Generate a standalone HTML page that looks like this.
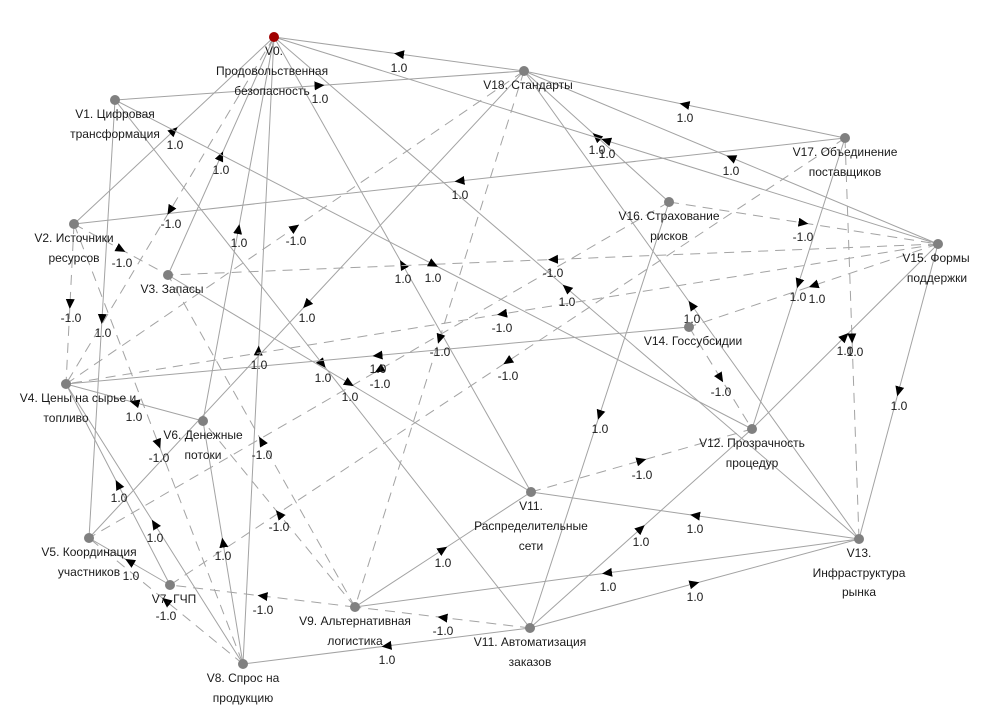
<!DOCTYPE html>
<html><head><meta charset="utf-8"><style>
html,body{margin:0;padding:0;background:#fff;}
svg{display:block;}
text{font-family:"Liberation Sans","Noto Sans CJK SC",sans-serif;font-size:12px;fill:#1a1a1a;text-anchor:middle;dominant-baseline:middle;}
.e{fill:none;stroke:#a3a3a3;stroke-width:1;marker-mid:url(#a);}
.d{stroke-dasharray:10,7;}
</style></head><body>
<svg width="983" height="716" viewBox="0 0 983 716" xmlns="http://www.w3.org/2000/svg">
<defs><marker id="a" viewBox="0 0 10 10" refX="5" refY="5" markerWidth="10" markerHeight="10" markerUnits="userSpaceOnUse" orient="auto"><path d="M0,0.5L10,5L0,9.5z" fill="#000"/></marker></defs>
<g>
<polyline class="e" points="524,71 399,54 274,37"/>
<polyline class="e" points="115,100 319.5,85.5 524,71"/>
<polyline class="e" points="74,224 174,130.5 274,37"/>
<polyline class="e" points="168,275 221,156 274,37"/>
<polyline class="e" points="203,421 238.5,229 274,37"/>
<polyline class="e" points="243,664 258.5,350.5 274,37"/>
<polyline class="e" points="115,100 102,319 89,538"/>
<polyline class="e" points="531,492 402.5,264.5 274,37"/>
<polyline class="e" points="845,138 459.5,181 74,224"/>
<polyline class="e" points="845,138 684.5,104.5 524,71"/>
<polyline class="e" points="669,202 596.5,136.5 524,71"/>
<polyline class="e" points="938,244 606,140.5 274,37"/>
<polyline class="e" points="938,244 731,157.5 524,71"/>
<polyline class="e d" points="669,202 803.5,223 938,244"/>
<polyline class="e d" points="938,244 553,259.5 168,275"/>
<polyline class="e" points="859,539 566.5,288 274,37"/>
<polyline class="e d" points="938,244 502,314 66,384"/>
<polyline class="e d" points="845,138 507.5,361.5 170,585"/>
<polyline class="e" points="859,539 691.5,305 524,71"/>
<polyline class="e" points="845,138 798.5,283.5 752,429"/>
<polyline class="e d" points="938,244 813.5,285.5 689,327"/>
<polyline class="e" points="752,429 845,336.5 938,244"/>
<polyline class="e d" points="845,138 852,338.5 859,539"/>
<polyline class="e" points="938,244 898.5,391.5 859,539"/>
<polyline class="e" points="669,202 599.5,415 530,628"/>
<polyline class="e d" points="689,327 720.5,378 752,429"/>
<polyline class="e d" points="531,492 641.5,460.5 752,429"/>
<polyline class="e" points="859,539 695,515.5 531,492"/>
<polyline class="e" points="530,628 641,528.5 752,429"/>
<polyline class="e" points="859,539 607,573 355,607"/>
<polyline class="e" points="530,628 694.5,583.5 859,539"/>
<polyline class="e" points="115,100 322.5,364 530,628"/>
<polyline class="e" points="115,100 433.5,264.5 752,429"/>
<polyline class="e" points="524,71 306.5,304.5 89,538"/>
<polyline class="e d" points="66,384 295,227.5 524,71"/>
<polyline class="e d" points="274,37 170,210.5 66,384"/>
<polyline class="e d" points="74,224 121,249.5 168,275"/>
<polyline class="e d" points="74,224 70,304 66,384"/>
<polyline class="e" points="689,327 377.5,355.5 66,384"/>
<polyline class="e d" points="669,202 379,370 89,538"/>
<polyline class="e d" points="524,71 439.5,339 355,607"/>
<polyline class="e" points="203,421 134.5,402.5 66,384"/>
<polyline class="e d" points="74,224 158.5,444 243,664"/>
<polyline class="e d" points="355,607 261.5,441 168,275"/>
<polyline class="e" points="170,585 118,484.5 66,384"/>
<polyline class="e" points="243,664 154.5,524 66,384"/>
<polyline class="e d" points="355,607 279,514 203,421"/>
<polyline class="e" points="243,664 223,542.5 203,421"/>
<polyline class="e" points="170,585 129.5,561.5 89,538"/>
<polyline class="e d" points="243,664 166,601 89,538"/>
<polyline class="e d" points="355,607 262.5,596 170,585"/>
<polyline class="e" points="355,607 443,549.5 531,492"/>
<polyline class="e d" points="530,628 442.5,617.5 355,607"/>
<polyline class="e" points="530,628 386.5,646 243,664"/>
<polyline class="e" points="168,275 349.5,383.5 531,492"/>
</g>
<g>
<text x="399" y="69">1.0</text>
<text x="320" y="100">1.0</text>
<text x="175" y="146">1.0</text>
<text x="221" y="171">1.0</text>
<text x="239" y="244">1.0</text>
<text x="259" y="366">1.0</text>
<text x="103" y="334">1.0</text>
<text x="403" y="280">1.0</text>
<text x="460" y="196">1.0</text>
<text x="685" y="119">1.0</text>
<text x="597" y="151">1.0</text>
<text x="607" y="155">1.0</text>
<text x="731" y="172">1.0</text>
<text x="803" y="238">-1.0</text>
<text x="553" y="274">-1.0</text>
<text x="567" y="303">1.0</text>
<text x="502" y="329">-1.0</text>
<text x="508" y="377">-1.0</text>
<text x="692" y="320">1.0</text>
<text x="798" y="298">1.0</text>
<text x="817" y="300">1.0</text>
<text x="845" y="352">1.0</text>
<text x="855" y="353">1.0</text>
<text x="899" y="407">1.0</text>
<text x="600" y="430">1.0</text>
<text x="721" y="393">-1.0</text>
<text x="642" y="476">-1.0</text>
<text x="695" y="530">1.0</text>
<text x="641" y="543">1.0</text>
<text x="608" y="588">1.0</text>
<text x="695" y="598">1.0</text>
<text x="323" y="379">1.0</text>
<text x="433" y="279">1.0</text>
<text x="307" y="319">1.0</text>
<text x="296" y="242">-1.0</text>
<text x="171" y="225">-1.0</text>
<text x="122" y="264">-1.0</text>
<text x="71" y="319">-1.0</text>
<text x="378" y="370">1.0</text>
<text x="380" y="385">-1.0</text>
<text x="440" y="353">-1.0</text>
<text x="134" y="418">1.0</text>
<text x="159" y="459">-1.0</text>
<text x="262" y="456">-1.0</text>
<text x="119" y="499">1.0</text>
<text x="155" y="539">1.0</text>
<text x="279" y="528">-1.0</text>
<text x="223" y="557">1.0</text>
<text x="131" y="577">1.0</text>
<text x="166" y="617">-1.0</text>
<text x="263" y="611">-1.0</text>
<text x="443" y="564">1.0</text>
<text x="443" y="632">-1.0</text>
<text x="387" y="661">1.0</text>
<text x="350" y="398">1.0</text>
</g>
<g fill="#808080">
<circle cx="115" cy="100" r="5"/><circle cx="74" cy="224" r="5"/><circle cx="168" cy="275" r="5"/>
<circle cx="66" cy="384" r="5"/><circle cx="89" cy="538" r="5"/><circle cx="203" cy="421" r="5"/>
<circle cx="170" cy="585" r="5"/><circle cx="243" cy="664" r="5"/><circle cx="355" cy="607" r="5"/>
<circle cx="530" cy="628" r="5"/><circle cx="531" cy="492" r="5"/><circle cx="752" cy="429" r="5"/>
<circle cx="859" cy="539" r="5"/><circle cx="689" cy="327" r="5"/><circle cx="938" cy="244" r="5"/>
<circle cx="669" cy="202" r="5"/><circle cx="845" cy="138" r="5"/><circle cx="524" cy="71" r="5"/>
<circle cx="274" cy="37" r="5" fill="#a00000"/>
</g>
<g>
<text x="274" y="52">V0.</text><text x="272" y="72">Продовольственная</text><text x="272" y="92">безопасность</text>
<text x="115" y="115">V1. Цифровая</text><text x="115" y="135">трансформация</text>
<text x="74" y="239">V2. Источники</text><text x="74" y="259">ресурсов</text>
<text x="172" y="290">V3. Запасы</text>
<text x="78" y="399">V4. Цены на сырье и</text><text x="66" y="419">топливо</text>
<text x="89" y="553">V5. Координация</text><text x="89" y="573">участников</text>
<text x="203" y="436">V6. Денежные</text><text x="203" y="456">потоки</text>
<text x="174" y="600">V7. ГЧП</text>
<text x="243" y="679">V8. Спрос на</text><text x="243" y="699">продукцию</text>
<text x="355" y="622">V9. Альтернативная</text><text x="355" y="642">логистика</text>
<text x="530" y="643">V11. Автоматизация</text><text x="530" y="663">заказов</text>
<text x="531" y="507">V11.</text><text x="531" y="527">Распределительные</text><text x="531" y="547">сети</text>
<text x="752" y="444">V12. Прозрачность</text><text x="752" y="464">процедур</text>
<text x="859" y="554">V13.</text><text x="859" y="574">Инфраструктура</text><text x="859" y="593">рынка</text>
<text x="693" y="342">V14. Госсубсидии</text>
<text x="936" y="259">V15. Формы</text><text x="937" y="279">поддержки</text>
<text x="669" y="217">V16. Страхование</text><text x="669" y="237">рисков</text>
<text x="845" y="153">V17. Объединение</text><text x="845" y="173">поставщиков</text>
<text x="528" y="86">V18. Стандарты</text>
</g>
</svg>
</body></html>
